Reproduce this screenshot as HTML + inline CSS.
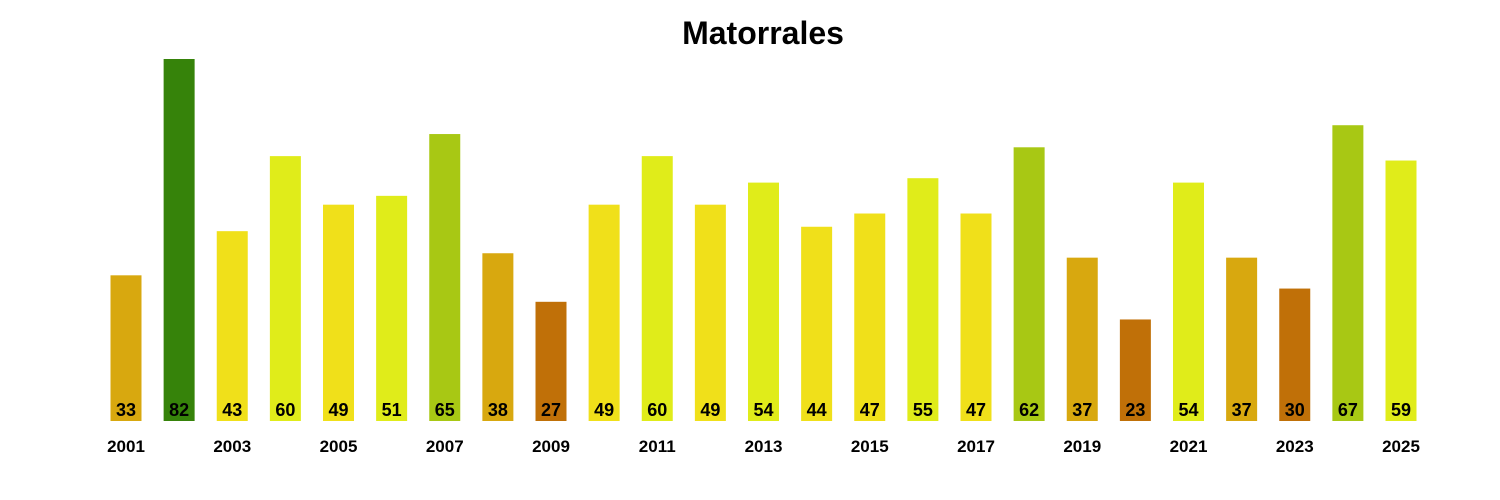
<!DOCTYPE html>
<html><head><meta charset="utf-8"><style>
body{margin:0;background:#fff;}
svg{display:block;font-family:"Liberation Sans",Arial,sans-serif;}
</style></head><body>
<svg id="chart" width="1500" height="500">
<text x="763" y="44" text-anchor="middle" font-size="32" font-weight="bold">Matorrales</text>
<g id="bars"></g>
<g id="xlabels"></g>
</svg>
<script>
const years = [2001,2002,2003,2004,2005,2006,2007,2008,2009,2010,2011,2012,2013,2014,2015,2016,2017,2018,2019,2020,2021,2022,2023,2024,2025];
const values = [33,82,43,60,49,51,65,38,27,49,60,49,54,44,47,55,47,62,37,23,54,37,30,67,59];
const ns = "http://www.w3.org/2000/svg";
const x0 = 126, step = 53.125, barW = 31, baseY = 421, pxPer = 362/82;
function xPos(i){ return x0 + i*step; }
function yPos(v){ return baseY - v*pxPer; }
function color(v){
  if (v <= 30) return "#C07008";
  if (v <= 40) return "#D8A80F";
  if (v <= 50) return "#F0E01A";
  if (v <= 60) return "#E0EC1A";
  if (v <= 70) return "#A8C814";
  return "#36830A";
}
const gb = document.getElementById("bars");
const gx = document.getElementById("xlabels");
values.forEach((v,i)=>{
  const r = document.createElementNS(ns,"rect");
  r.setAttribute("x", xPos(i)-barW/2);
  r.setAttribute("y", yPos(v));
  r.setAttribute("width", barW);
  r.setAttribute("height", baseY - yPos(v));
  r.setAttribute("fill", color(v));
  
  
  gb.appendChild(r);
  const t = document.createElementNS(ns,"text");
  t.setAttribute("x", xPos(i));
  t.setAttribute("y", 416);
  t.setAttribute("text-anchor","middle");
  t.setAttribute("font-size","18");
  t.setAttribute("font-weight","bold");
  t.textContent = v;
  
  
  gb.appendChild(t);
  if (i % 2 === 0) {
    const yl = document.createElementNS(ns,"text");
    yl.setAttribute("x", xPos(i));
    yl.setAttribute("y", 452);
    yl.setAttribute("text-anchor","middle");
    yl.setAttribute("font-size","17");
    yl.setAttribute("font-weight","bold");
    yl.textContent = years[i];
    
    
    gx.appendChild(yl);
  }
});
</script>
</body></html>
